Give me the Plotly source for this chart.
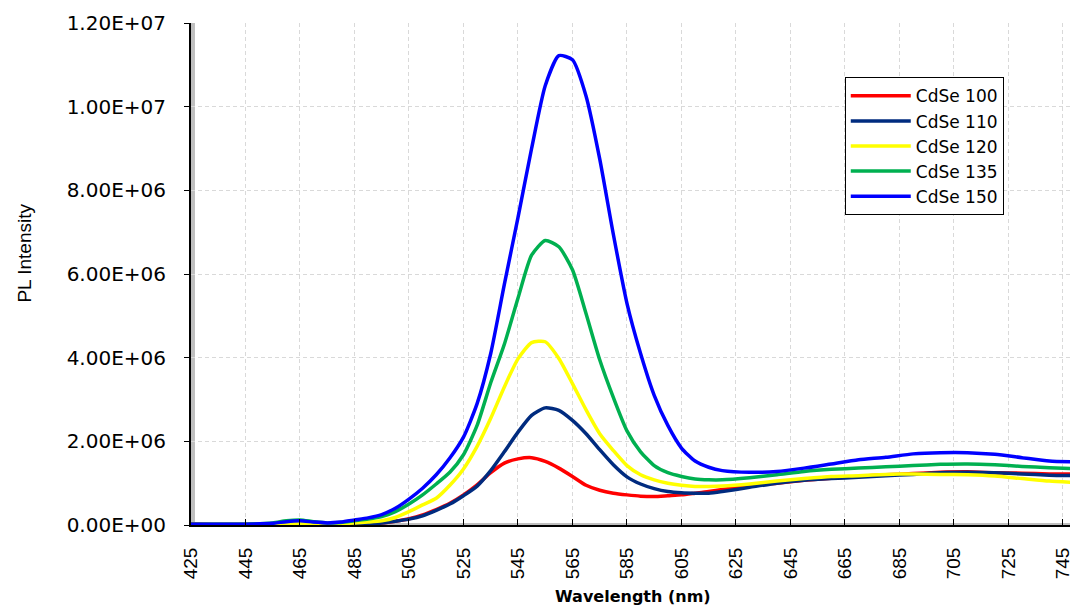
import plotly.graph_objects as go

# ---- data ----
wavelength = [425, 435, 445, 455, 460, 465, 470, 475, 480, 485, 490, 495, 500, 505, 510,
              515, 520, 525, 530, 535, 540, 545, 550, 555, 560, 565, 570, 575, 580, 585,
              590, 595, 600, 605, 610, 615, 620, 630, 640, 650, 660, 670, 680, 690, 700,
              710, 720, 730, 740, 748]

cdse100 = [0.03, 0.01, 0.01, 0.01, 0.02, 0.03, 0.02, 0.01, 0.02, 0.02, 0.03, 0.05, 0.09, 0.15, 0.24,
           0.37, 0.52, 0.72, 0.96, 1.25, 1.48, 1.58, 1.61, 1.52, 1.36, 1.16, 0.95, 0.83, 0.76, 0.72,
           0.69, 0.68, 0.70, 0.72, 0.76, 0.80, 0.85, 0.94, 1.00, 1.07, 1.12, 1.16, 1.20, 1.23, 1.26,
           1.27, 1.25, 1.24, 1.22, 1.22]

cdse110 = [0.01, 0.01, 0.01, 0.01, 0.02, 0.03, 0.02, 0.01, 0.02, 0.02, 0.03, 0.05, 0.09, 0.14, 0.22,
           0.35, 0.50, 0.70, 0.93, 1.30, 1.75, 2.22, 2.62, 2.80, 2.74, 2.50, 2.18, 1.80, 1.44, 1.15,
           0.98, 0.87, 0.80, 0.77, 0.76, 0.76, 0.80, 0.90, 1.00, 1.07, 1.11, 1.14, 1.18, 1.21, 1.25,
           1.26, 1.25, 1.22, 1.19, 1.18]

cdse120 = [0.01, 0.01, 0.01, 0.02, 0.03, 0.04, 0.03, 0.02, 0.03, 0.05, 0.07, 0.10, 0.18, 0.32, 0.48,
           0.64, 0.95, 1.34, 1.88, 2.55, 3.30, 3.97, 4.36, 4.38, 3.98, 3.38, 2.75, 2.18, 1.78, 1.42,
           1.20, 1.08, 1.00, 0.95, 0.92, 0.92, 0.93, 0.98, 1.05, 1.11, 1.16, 1.18, 1.21, 1.22, 1.21,
           1.20, 1.17, 1.11, 1.05, 1.02]

cdse135 = [0.02, 0.02, 0.02, 0.05, 0.10, 0.12, 0.08, 0.05, 0.06, 0.10, 0.14, 0.20, 0.32, 0.50, 0.72,
           0.98, 1.26, 1.68, 2.38, 3.40, 4.32, 5.42, 6.45, 6.80, 6.65, 6.10, 5.05, 3.95, 3.05, 2.25,
           1.75, 1.42, 1.25, 1.16, 1.10, 1.08, 1.08, 1.13, 1.20, 1.28, 1.33, 1.36, 1.39, 1.42, 1.45,
           1.46, 1.44, 1.40, 1.37, 1.35]

cdse150 = [0.02, 0.02, 0.02, 0.04, 0.08, 0.10, 0.07, 0.05, 0.07, 0.12, 0.17, 0.25, 0.40, 0.62, 0.88,
           1.20, 1.60, 2.10, 2.90, 4.10, 5.75, 7.35, 9.00, 10.50, 11.22, 11.12, 10.25, 8.75, 6.95, 5.30,
           4.10, 3.10, 2.38, 1.84, 1.53, 1.38, 1.30, 1.26, 1.28, 1.36, 1.46, 1.56, 1.62, 1.70, 1.73,
           1.73, 1.69, 1.61, 1.53, 1.51]

SCALE = 1e6  # values above are in units of 1e6

series_names = ["CdSe 100", "CdSe 110", "CdSe 120", "CdSe 135", "CdSe 150"]
series_values = [cdse100, cdse110, cdse120, cdse135, cdse150]
series_colors = ["#ff0000", "#002b7f", "#ffff00", "#00b050", "#0000ff"]

x_tick_vals = list(range(425, 746, 20))
y_tick_vals = [0, 2e6, 4e6, 6e6, 8e6, 1e7, 1.2e7]
y_tick_text = ["0.00E+00", "2.00E+06", "4.00E+06", "6.00E+06", "8.00E+06", "1.00E+07", "1.20E+07"]

# ---- figure ----
fig = go.Figure()
for name, vals, color in zip(series_names, series_values, series_colors):
    fig.add_trace(go.Scatter(
        x=wavelength, y=[v * SCALE for v in vals], name=name, mode="lines",
        line=dict(color=color, width=3.5, shape="spline", smoothing=0.6),
    ))

grid = dict(showgrid=True, gridcolor="#d9d9d9", gridwidth=1, griddash="4px,3px")

fig.update_layout(
    width=1073, height=609,
    margin=dict(l=191, r=0, t=23, b=84),
    paper_bgcolor="white", plot_bgcolor="white",
    font=dict(family="Liberation Sans, Arial", color="black"),
    xaxis=dict(
        range=[425, 747.6], tickmode="array", tickvals=x_tick_vals,
        tickangle=-90, ticks="inside", ticklen=6, tickcolor="black",
        tickfont=dict(family="Liberation Sans", size=19, color="black"),
        ticklabelstandoff=13, ticklabeloverflow="allow",
        showline=True, linecolor="black", linewidth=2, zeroline=False, **grid,
    ),
    yaxis=dict(
        range=[0, 1.2e7], tickmode="array", tickvals=y_tick_vals, ticktext=y_tick_text,
        ticks="outside", ticklen=5, tickcolor="black",
        tickfont=dict(family="DejaVu Sans", size=20, color="black"),
        ticklabelstandoff=14,
        showline=True, linecolor="black", linewidth=2, zeroline=False, **grid,
    ),
    legend=dict(
        x=(847 - 191) / 882, y=(525.3 - 77) / 502.6, xanchor="left", yanchor="top",
        bgcolor="white", bordercolor="black", borderwidth=1,
        font=dict(family="DejaVu Sans", size=17, color="black"),
        itemwidth=60, tracegroupgap=0,
    ),
    showlegend=True,
)

# 3D-like grey shadow along the axis lines (styling only)
fig.add_shape(type="rect", xref="paper", yref="paper", x0=0, x1=4 / 882, y0=0, y1=1,
              fillcolor="#bfbfbf", line=dict(width=0), layer="between")
fig.add_shape(type="rect", xref="paper", yref="paper", x0=0, x1=1, y0=0, y1=2 / 502.6,
              fillcolor="#bfbfbf", line=dict(width=0), layer="between")

# axis titles
fig.add_annotation(text="PL Intensity", xref="paper", yref="paper",
                   x=(23 - 191) / 882, y=(525.3 - 253) / 502.6, xanchor="center", yanchor="middle",
                   textangle=-90, showarrow=False,
                   font=dict(family="Liberation Sans", size=19, color="black"))
fig.add_annotation(text="<b>Wavelength (nm)</b>", xref="paper", yref="paper",
                   x=(635 - 191) / 882, y=(525.3 - 597) / 502.6, xanchor="center", yanchor="middle",
                   showarrow=False,
                   font=dict(family="DejaVu Sans", size=16, color="black"))

fig.write_html("out.html")
